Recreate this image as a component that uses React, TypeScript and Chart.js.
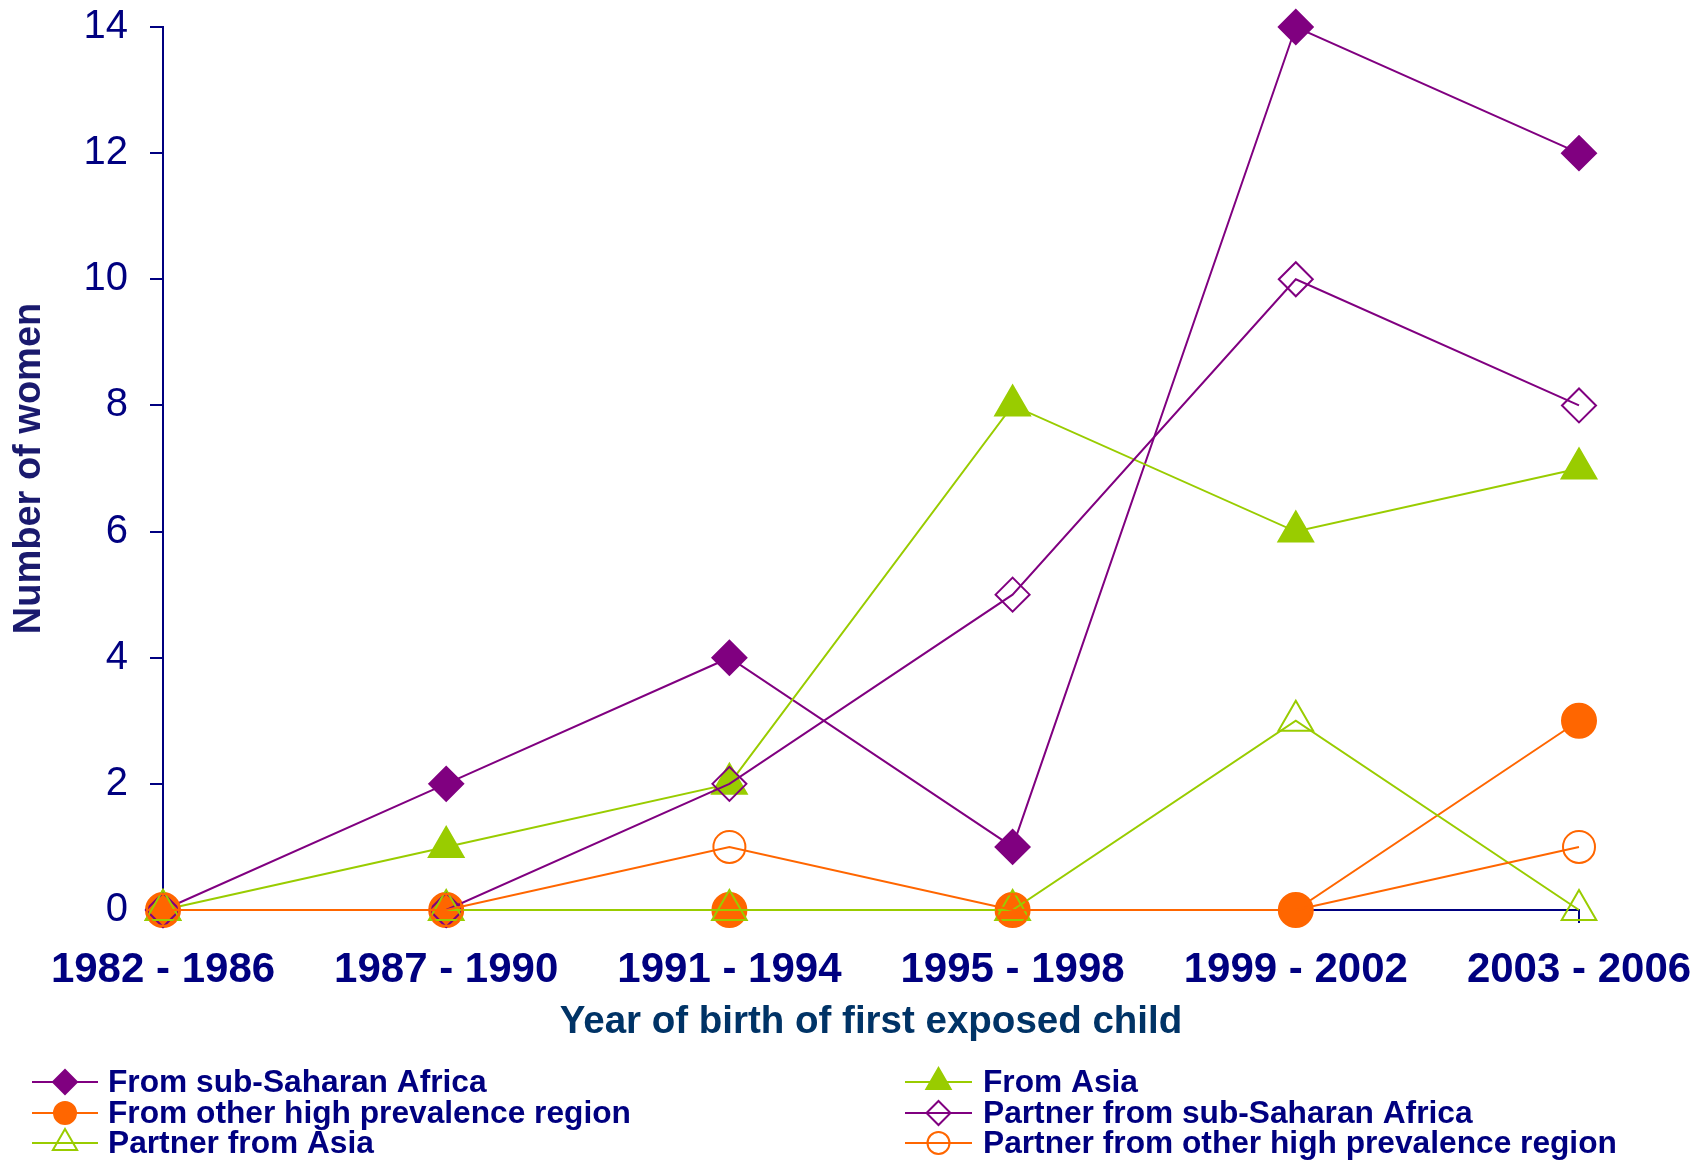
import React, { useEffect, useRef } from 'react';
import { Chart, registerables } from 'chart.js';

Chart.register(...registerables);

const categories = ['1982 - 1986', '1987 - 1990', '1991 - 1994', '1995 - 1998', '1999 - 2002', '2003 - 2006'];
const fromSubSaharanAfrica = [0, 2, 4, 1, 14, 12];
const fromAsia = [0, 1, 2, 8, 6, 7];
const fromOtherHighPrevalence = [0, 0, 0, 0, 0, 3];
const partnerFromSubSaharanAfrica = [0, 0, 2, 5, 10, 8];
const partnerFromAsia = [0, 0, 0, 0, 3, 0];
const partnerFromOtherHighPrevalence = [0, 0, 1, 0, 0, 1];
const yMin = 0;
const yMax = 14;
const yStep = 2;

const PURPLE = '#800080';
const GREEN = '#99CC00';
const ORANGE = '#FF6600';
const NAVY = '#000080';
const FONT = '"Liberation Sans", Arial, sans-serif';

type SeriesDef = {
  label: string;
  data: number[];
  color: string;
  style: 'rectRot' | 'triangle' | 'circle';
  filled: boolean;
  radius: number;
  legendRadius: number;
};

const series: SeriesDef[] = [
  { label: 'From sub-Saharan Africa', data: fromSubSaharanAfrica, color: PURPLE, style: 'rectRot', filled: true, radius: 17, legendRadius: 12 },
  { label: 'From Asia', data: fromAsia, color: GREEN, style: 'triangle', filled: true, radius: 20, legendRadius: 14 },
  { label: 'From other high prevalence region', data: fromOtherHighPrevalence, color: ORANGE, style: 'circle', filled: true, radius: 17, legendRadius: 11 },
  { label: 'Partner from sub-Saharan Africa', data: partnerFromSubSaharanAfrica, color: PURPLE, style: 'rectRot', filled: false, radius: 17, legendRadius: 12 },
  { label: 'Partner from Asia', data: partnerFromAsia, color: GREEN, style: 'triangle', filled: false, radius: 20, legendRadius: 14 },
  { label: 'Partner from other high prevalence region', data: partnerFromOtherHighPrevalence, color: ORANGE, style: 'circle', filled: false, radius: 16, legendRadius: 11 },
];

function drawMarker(ctx: CanvasRenderingContext2D, s: SeriesDef, x: number, y: number, r: number) {
  ctx.save();
  ctx.beginPath();
  if (s.style === 'rectRot') {
    ctx.moveTo(x - r, y);
    ctx.lineTo(x, y - r);
    ctx.lineTo(x + r, y);
    ctx.lineTo(x, y + r);
    ctx.closePath();
  } else if (s.style === 'triangle') {
    let rad = 0;
    ctx.moveTo(x + Math.sin(rad) * r, y - Math.cos(rad) * r);
    rad += (2 * Math.PI) / 3;
    ctx.lineTo(x + Math.sin(rad) * r, y - Math.cos(rad) * r);
    rad += (2 * Math.PI) / 3;
    ctx.lineTo(x + Math.sin(rad) * r, y - Math.cos(rad) * r);
    ctx.closePath();
  } else {
    ctx.arc(x, y, r, 0, Math.PI * 2);
  }
  if (s.filled) {
    ctx.fillStyle = s.color;
    ctx.fill();
  }
  ctx.strokeStyle = s.color;
  ctx.lineWidth = 2;
  ctx.stroke();
  ctx.restore();
}

const legendCols = [
  { lineStart: 32, lineEnd: 98, textX: 108 },
  { lineStart: 905, lineEnd: 972, textX: 983 },
];
const legendRows = [1082, 1113, 1143];

const gridLegendPlugin = {
  id: 'gridLegend',
  afterDraw(chart: any) {
    const ctx: CanvasRenderingContext2D = chart.ctx;
    series.forEach((s, i) => {
      const col = legendCols[i % 2];
      const y = legendRows[Math.floor(i / 2)];
      ctx.save();
      ctx.strokeStyle = s.color;
      ctx.lineWidth = 2;
      ctx.beginPath();
      ctx.moveTo(col.lineStart, y);
      ctx.lineTo(col.lineEnd, y);
      ctx.stroke();
      ctx.restore();
      drawMarker(ctx, s, (col.lineStart + col.lineEnd) / 2, y, s.legendRadius);
      ctx.save();
      ctx.fillStyle = NAVY;
      ctx.font = `bold 31.7px ${FONT}`;
      ctx.textAlign = 'left';
      ctx.textBaseline = 'middle';
      ctx.fillText(s.label, col.textX, y + 1);
      ctx.restore();
    });
  },
};

export default function App() {
  const canvasRef = useRef<HTMLCanvasElement | null>(null);

  useEffect(() => {
    if (!canvasRef.current) return;
    const n = series.length;
    const chart = new Chart(canvasRef.current, {
      type: 'line',
      data: {
        labels: categories,
        datasets: series.map((s, i) => ({
          label: s.label,
          data: s.data,
          borderColor: s.color,
          borderWidth: 2,
          backgroundColor: s.filled ? s.color : 'transparent',
          pointStyle: s.style,
          pointRadius: s.radius,
          pointHoverRadius: s.radius,
          pointBackgroundColor: s.filled ? s.color : 'rgba(0,0,0,0)',
          pointBorderColor: s.color,
          pointBorderWidth: 2,
          tension: 0,
          fill: false,
          clip: false as any,
          order: n - i,
        })),
      },
      options: {
        responsive: false,
        animation: false,
        devicePixelRatio: 1,
        layout: { padding: { left: 0, right: 120, top: 27, bottom: 111 } },
        plugins: {
          legend: { display: false },
          tooltip: { enabled: false },
        },
        scales: {
          x: {
            type: 'category',
            offset: false,
            afterFit: (scale: any) => {
              scale.height = 140;
              scale.paddingLeft = 0;
              scale.paddingRight = 0;
            },
            border: { display: true, color: NAVY, width: 2 },
            grid: { display: true, drawOnChartArea: false, drawTicks: true, tickLength: 13, color: NAVY, lineWidth: 2 },
            ticks: {
              color: NAVY,
              font: { family: FONT, size: 42, weight: 'bold' },
              padding: 22,
              maxRotation: 0,
              autoSkip: false,
            },
            title: {
              display: true,
              text: 'Year of birth of first exposed child',
              color: '#003366',
              font: { family: FONT, size: 38.5, weight: 'bold' },
              padding: { top: 0, bottom: 5 },
            },
          },
          y: {
            min: yMin,
            max: yMax,
            afterFit: (scale: any) => {
              scale.width = 163;
              scale.paddingTop = 0;
              scale.paddingBottom = 0;
            },
            border: { display: true, color: NAVY, width: 2 },
            grid: { display: true, drawOnChartArea: false, drawTicks: true, tickLength: 13, color: NAVY, lineWidth: 2 },
            ticks: {
              stepSize: yStep,
              color: NAVY,
              font: { family: FONT, size: 40 },
              padding: 22,
            },
            title: {
              display: true,
              text: 'Number of women',
              color: '#1A1A6E',
              font: { family: FONT, size: 38, weight: 'bold' },
              padding: { top: 7, bottom: 0 },
            },
          },
        },
      },
      plugins: [gridLegendPlugin],
    });
    return () => chart.destroy();
  }, []);

  return (
    <div style={{ position: 'absolute', left: 0, top: 0, width: 1699, height: 1161, background: '#ffffff' }}>
      <canvas ref={canvasRef} width={1699} height={1161} style={{ display: 'block' }} />
    </div>
  );
}
